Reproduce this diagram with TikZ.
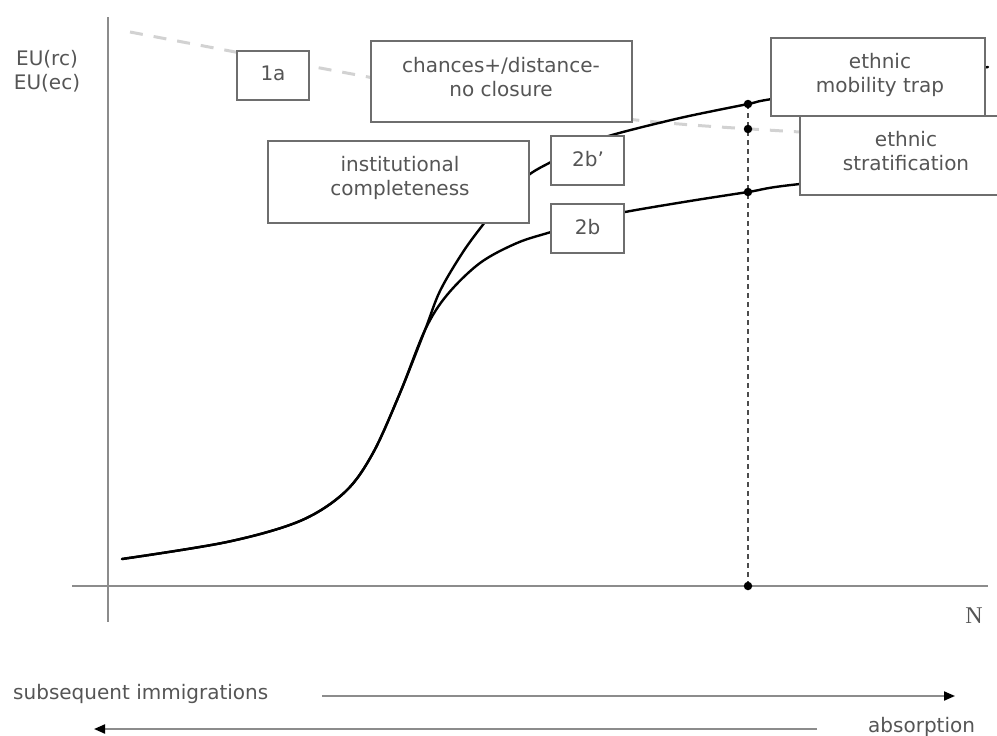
\documentclass[tikz,border=0pt]{standalone}
\usepackage{fontspec}
\setmainfont{DejaVu Sans}
\newfontfamily\axisfont{Liberation Serif}
\usetikzlibrary{arrows.meta}

\definecolor{txtgray}{HTML}{555555}
\definecolor{boxgray}{HTML}{6E6E6E}
\definecolor{axisgray}{HTML}{8C8C8C}
\definecolor{dashgray}{HTML}{D2D2D2}

\begin{document}
\begin{tikzpicture}[x=1pt,y=-1pt,
  box/.style={draw=boxgray, line width=1.3pt, fill=white, inner sep=0pt},
  lbl/.style={text=txtgray, font=\fontsize{20}{24}\selectfont, align=center, inner sep=0pt},
  axisline/.style={draw=axisgray, line width=2pt},
  curve/.style={line width=2.4pt, black, line cap=round},
  dot/.style={circle, fill=black, inner sep=0pt, minimum size=8.5pt},
  guide/.style={draw=black!70, line width=1.4pt, dash pattern=on 5pt off 4pt},
  trend/.style={draw=dashgray, line width=3pt, dash pattern=on 13pt off 11pt},
  arr/.style={draw=axisgray, line width=2pt, -{Triangle[length=11pt,width=9pt,color=black]}}
]
\useasboundingbox (0,0) rectangle (997,736);

% axes
\coordinate (yTop) at (108,17);
\coordinate (yBot) at (108,622);
\coordinate (xL) at (72,586);
\coordinate (xR) at (988,586);
\draw[axisline] (yTop) -- (yBot);
\draw[axisline] (xL) -- (xR);

% points on the reference line N = N*
\coordinate (pUp) at (748,104);
\coordinate (pMid) at (748,129);
\coordinate (pLow) at (748,192);
\coordinate (pAx) at (748,586);
\draw[guide] (pUp) -- (pAx);

% light dashed trend
\coordinate (g0) at (130,32);
\coordinate (g1) at (590,119.4);
\coordinate (g2) at (800,132);
\draw[trend] (g0) .. controls (g1) .. (g2);

% upper branch (2b')
\draw[curve] plot[smooth, tension=0.55] coordinates {
  (122,559) (227,542) (300,521) (345,492) (373,453) (400,393) (425,330)
  (440,291) (463,252) (485,222) (507,194) (530,174) (551,162) (582,146)
  (612,135) (680,118) (748,104) (772,99) (880,83) (988,67)};

% lower branch (2b)
\draw[curve] plot[smooth, tension=0.55] coordinates {
  (122,559) (227,542) (300,521) (345,492) (373,453) (400,393) (425,330)
  (447,295) (480,263) (517,243) (551,232) (590,220) (625,212) (690,201)
  (748,192) (800,184) (1000,165)};

% boxes
\node[box, minimum width=72pt, minimum height=49pt] (b1a) at (273,75.5) {};
\node[box, minimum width=261pt, minimum height=81pt] (bch) at (501.5,81.5) {};
\node[box, minimum width=261pt, minimum height=82pt] (bic) at (398.5,182) {};
\node[box, minimum width=73pt, minimum height=49pt] (b2bp) at (587.5,160.5) {};
\node[box, minimum width=73pt, minimum height=49pt] (b2b) at (587.5,228.5) {};
\node[box, minimum width=214pt, minimum height=78pt] (bmt) at (878,77) {};
\node[box, minimum width=212pt, minimum height=79pt] (bst) at (906,155.5) {};

% box texts
\node[lbl] (t1a) at (273,73) {1a};
\node[lbl] (tch) at (501,77) {chances+/distance-\\no closure};
\node[lbl] (tic) at (400,178) {institutional\\completeness};
\node[lbl] (t2bp) at (588,159) {2b’};
\node[lbl] (t2b) at (587.5,227) {2b};
\node[lbl] (tmt) at (880,75) {ethnic\\mobility trap};
\node[lbl] (tst) at (906,151) {ethnic\\stratification};

% dots
\node[dot] (dUp) at (pUp) {};
\node[dot] (dMid) at (pMid) {};
\node[dot] (dLow) at (pLow) {};
\node[dot] (dAx) at (pAx) {};

% axis labels
\node[lbl] (eu) at (47,71) {EU(rc)\\EU(ec)};
\node[text=txtgray, font=\axisfont\fontsize{24}{28}\selectfont, inner sep=0pt] (N) at (974,616) {N};

% direction arrows
\node[lbl, anchor=base west] (subs) at (13,699) {subsequent immigrations};
\coordinate (imA) at (322,696);
\coordinate (imB) at (955,696);
\draw[arr] (imA) -- (imB);

\node[lbl, anchor=base west] (abs) at (868,732) {absorption};
\coordinate (abA) at (817,729);
\coordinate (abB) at (94,729);
\draw[arr] (abA) -- (abB);
\end{tikzpicture}
\end{document}
